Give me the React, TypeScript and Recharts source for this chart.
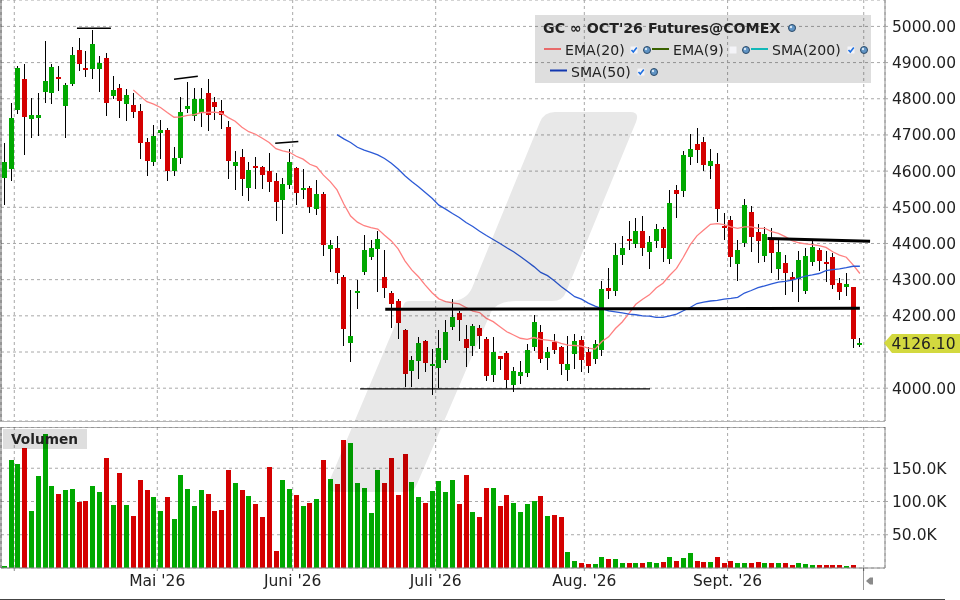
import { Bar, BarChart, ComposedChart, CartesianGrid, Line, ReferenceLine, XAxis, YAxis } from "recharts";

const opens = [
  4582, 4606, 4770, 4855, 4744, 4747, 4818, 4816, 4860, 4780, 4841, 4935, 4885, 4882, 4882, 4912, 4807, 4829, 4785, 4782,
  4766, 4680, 4625, 4705, 4713, 4600, 4636, 4771, 4752, 4760, 4816, 4791, 4766, 4722, 4614, 4639, 4553, 4614, 4611, 4600,
  4572, 4520, 4561, 4608, 4548, 4553, 4495, 4537, 4385, 4388, 4307, 4125, 4263, 4321, 4363, 4385, 4307, 4263, 4241, 4161,
  4048, 4075, 4130, 4061, 4056, 4078, 4169, 4208, 4136, 4117, 4166, 4136, 4036, 4089, 4097, 4009, 4034, 4042, 4114, 4155,
  4083, 4128, 4114, 4050, 4095, 4133, 4100, 4081, 4106, 4277, 4269, 4368, 4412, 4399, 4434, 4376, 4407, 4440, 4357, 4548,
  4545, 4639, 4675, 4680, 4614, 4620, 4448, 4465, 4343, 4401, 4487, 4432, 4365, 4412, 4329, 4346, 4307, 4302, 4269, 4349,
  4382, 4349, 4363, 4291, 4280, 4280, 4118,
];
const highs = [
  4677, 4787, 4890, 4896, 4802, 4815, 4959, 4896, 4890, 4843, 4943, 4968, 4932, 4990, 4918, 4926, 4863, 4841, 4827, 4816,
  4785, 4691, 4727, 4741, 4719, 4666, 4805, 4846, 4829, 4829, 4855, 4805, 4796, 4738, 4655, 4661, 4625, 4639, 4614, 4650,
  4595, 4581, 4661, 4611, 4606, 4559, 4575, 4542, 4410, 4421, 4313, 4271, 4299, 4424, 4410, 4435, 4382, 4269, 4247, 4164,
  4089, 4141, 4133, 4108, 4161, 4189, 4247, 4213, 4175, 4177, 4175, 4141, 4141, 4089, 4103, 4059, 4075, 4122, 4202, 4175,
  4114, 4150, 4117, 4144, 4150, 4144, 4114, 4133, 4296, 4332, 4401, 4421, 4462, 4470, 4476, 4421, 4454, 4445, 4548, 4562,
  4656, 4703, 4719, 4694, 4661, 4650, 4484, 4476, 4410, 4523, 4504, 4454, 4446, 4443, 4410, 4368, 4320, 4379, 4387, 4407,
  4387, 4379, 4374, 4305, 4318, 4280, 4139,
];
const lows = [
  4506, 4573, 4758, 4644, 4691, 4697, 4788, 4785, 4821, 4691, 4835, 4877, 4860, 4855, 4818, 4752, 4799, 4747, 4738, 4747,
  4633, 4586, 4614, 4633, 4572, 4586, 4619, 4760, 4738, 4722, 4711, 4741, 4716, 4578, 4548, 4531, 4517, 4550, 4550, 4542,
  4462, 4426, 4550, 4506, 4523, 4484, 4479, 4365, 4321, 4288, 4117, 4072, 4219, 4313, 4354, 4266, 4249, 4166, 4136, 4003,
  4003, 4025, 4045, 3981, 4001, 4070, 4161, 4130, 4059, 4089, 4108, 4020, 4017, 4050, 4001, 3990, 4012, 4031, 4103, 4070,
  4050, 4095, 4036, 4020, 4053, 4045, 4042, 4067, 4089, 4247, 4255, 4341, 4382, 4387, 4365, 4329, 4387, 4349, 4343, 4470,
  4528, 4617, 4622, 4600, 4578, 4459, 4410, 4335, 4296, 4390, 4376, 4346, 4349, 4318, 4299, 4258, 4266, 4238, 4260, 4338,
  4324, 4294, 4274, 4244, 4255, 4111, 4114,
];
const closes = [
  4625, 4747, 4885, 4750, 4755, 4755, 4849, 4888, 4854, 4838, 4921, 4896, 4879, 4951, 4899, 4788, 4824, 4793, 4810, 4763,
  4677, 4628, 4697, 4713, 4600, 4636, 4763, 4780, 4799, 4799, 4755, 4777, 4755, 4628, 4625, 4578, 4603, 4608, 4589, 4570,
  4514, 4564, 4625, 4539, 4553, 4501, 4537, 4396, 4396, 4318, 4164, 4144, 4269, 4382, 4388, 4412, 4277, 4233, 4180, 4039,
  4078, 4125, 4070, 4067, 4111, 4155, 4197, 4188, 4111, 4172, 4144, 4034, 4100, 4081, 4023, 4048, 4045, 4106, 4183, 4081,
  4100, 4106, 4067, 4067, 4130, 4078, 4061, 4122, 4274, 4269, 4368, 4388, 4407, 4434, 4388, 4404, 4440, 4387, 4512, 4537,
  4645, 4661, 4658, 4617, 4628, 4495, 4443, 4363, 4382, 4506, 4418, 4407, 4426, 4374, 4376, 4318, 4299, 4354, 4365, 4390,
  4352, 4343, 4285, 4266, 4288, 4136, 4126,
];
const volumes = [
  3.5, 162, 156, 180, 86, 138, 201, 123, 111, 117, 119, 99, 101, 123, 114, 165, 95, 143, 95, 78,
  132, 117, 107, 86, 107, 74, 140, 119, 93, 117, 111, 86, 87, 147, 128, 117, 108, 96, 77, 152,
  26, 132, 119, 110, 93, 98, 104, 162, 134, 126, 192, 188, 128, 120, 83, 147, 128, 165, 110, 171,
  129, 107, 98, 116, 131, 114, 132, 96, 140, 84, 77, 120, 120, 93, 110, 98, 84, 96, 101, 108,
  78, 80, 77, 24, 11, 8, 6.5, 6.5, 17, 14, 14, 8, 8, 8, 8, 9.5, 8, 9.5, 17, 11,
  15.5, 23, 11, 9.5, 9.5, 17, 8, 11, 8, 8, 8, 9.5, 8, 8, 8, 8, 5, 8, 6.5, 5,
  5, 5, 5, 5, 3.5, 5, 0,
];
const ema20 = [
  null, null, null, null, null, null, null, null, null, null, null, null, null, null, null, null, null, null, null, 4824,
  4808, 4792, 4785, 4776, 4762, 4749, 4750, 4754, 4756, 4762, 4762, 4763, 4760, 4748, 4738, 4721, 4709, 4702, 4691, 4679,
  4662, 4656, 4652, 4641, 4633, 4619, 4612, 4589, 4571, 4548, 4509, 4476, 4459, 4449, 4444, 4440, 4423, 4407, 4385, 4352,
  4327, 4308, 4285, 4264, 4247, 4239, 4236, 4233, 4223, 4213, 4209, 4193, 4184, 4170, 4156, 4147, 4138, 4135, 4140, 4135,
  4133, 4130, 4124, 4119, 4118, 4116, 4111, 4108, 4129, 4142, 4165, 4183, 4207, 4232, 4246, 4258, 4277, 4290, 4312, 4331,
  4362, 4396, 4421, 4437, 4453, 4455, 4452, 4446, 4442, 4446, 4446, 4442, 4442, 4433, 4428, 4419, 4408, 4402, 4399, 4397,
  4394, 4389, 4377, 4368, 4362, 4341, 4317,
];
const sma50 = [
  null, null, null, null, null, null, null, null, null, null, null, null, null, null, null, null, null, null, null, null,
  null, null, null, null, null, null, null, null, null, null, null, null, null, null, null, null, null, null, null, null,
  null, null, null, null, null, null, null, null, null, 4701,
  4689, 4679, 4666, 4658, 4652, 4645, 4635, 4622, 4606, 4587, 4571, 4557, 4541, 4525, 4506, 4495, 4483, 4472, 4458, 4447,
  4434, 4422, 4411, 4400, 4388, 4377, 4364, 4350, 4336, 4320, 4311, 4297, 4281, 4267, 4253, 4246, 4235, 4227, 4220, 4214,
  4211, 4208, 4205, 4203, 4200, 4199, 4196, 4196, 4200, 4205, 4214, 4223, 4234, 4238, 4241, 4243, 4246, 4248, 4251, 4263,
  4270, 4278, 4283, 4288, 4293, 4295, 4299, 4304, 4310, 4313, 4317, 4325, 4328, 4330, 4333, 4337, 4337,
];
const priceTicks = [4000, 4100, 4200, 4300, 4400, 4500, 4600, 4700, 4800, 4900, 5000];
const volumeTicks = [50, 100, 150];
// month boundaries on the candle index axis
const monthTicks = [1.47, 22.53, 42.47, 63.53, 85.42, 106.52, 126.57];
const monthLabels = ["", "Mai '26", "Juni '26", "Juli '26", "Aug. '26", "Sept. '26", ""];

// hand drawn trend lines: [index, price, index, price, width]
const trendLines = [
  [10.7, 4995, 15.7, 4995, 1.5],
  [25.0, 4854, 28.5, 4862, 1.5],
  [39.9, 4677, 43.3, 4682, 1.5],
  [56.1, 4218, 126, 4221, 3],
  [52.4, 3998, 95.1, 3998, 1.3],
  [112.4, 4414, 127.5, 4406, 3],
];

const candles = closes.map((close, i) => ({
  i,
  open: opens[i],
  high: highs[i],
  low: lows[i],
  close,
  volume: volumes[i],
  ema20: ema20[i],
  sma50: sma50[i],
}));

const GREEN = "#00a800";
const RED = "#d40000";
const GRID = "#a8a8a8";
const FRAME = "#b4b4b4";
const FONT = "'DejaVu Sans', sans-serif";
const X_DOMAIN = [-0.486, 129.7];

function Candle({ x, y, width, height, payload }: any) {
  const h = Math.abs(height);
  const k = h / (payload.high - payload.low || 1);
  const yOf = (v: number) => y + (payload.high - v) * k;
  const left = Math.round(x + width / 2 - 2.5);
  const top = yOf(Math.max(payload.open, payload.close));
  const bottom = yOf(Math.min(payload.open, payload.close));
  return (
    <g shapeRendering="crispEdges">
      <rect x={left + 2} y={y} width={1} height={h} fill="#000" />
      <rect x={left} y={top} width={5} height={Math.max(bottom - top, 2)} fill={payload.close >= payload.open ? GREEN : RED} />
    </g>
  );
}

function VolumeBar({ x, y, width, height, payload }: any) {
  return (
    <rect
      x={Math.round(x + width / 2 - 2.5)}
      y={y}
      width={5}
      height={Math.max(height, 0)}
      fill={payload.close >= payload.open ? GREEN : RED}
      shapeRendering="crispEdges"
    />
  );
}

function Ball({ x, y }: { x: number; y: number }) {
  return (
    <g>
      <circle cx={x} cy={y} r={3.5} fill="#5f93c4" stroke="#2c4a68" strokeWidth={1} />
      <circle cx={x - 1} cy={y - 1} r={1.2} fill="#d5e6f5" />
    </g>
  );
}

function Check({ x, y, on = true }: { x: number; y: number; on?: boolean }) {
  return (
    <g>
      <rect x={x - 3.5} y={y - 3.5} width={7} height={7} fill="#f4f4f8" />
      {on && <path d={`M${x - 2.5} ${y} L${x - 0.7} ${y + 2} L${x + 2.8} ${y - 2.5}`} stroke="#1d6fe0" strokeWidth={1.6} fill="none" />}
    </g>
  );
}

function LegendLabel({ x, y, text, bold }: { x: number; y: number; text: string; bold?: boolean }) {
  return (
    <text x={x} y={y} fontFamily={FONT} fontSize={bold ? 14.2 : 14.1} fontWeight={bold ? 700 : 400} fill="#222">
      {text}
    </text>
  );
}

// watermark, panel frames and boxes sit behind the two transparent charts
function Backdrop() {
  return (
    <svg width={960} height={600} style={{ position: "absolute", left: 0, top: 0 }}>
      <path
        d="M555 112 L630 112 Q640 112 636 122 L566 292 Q563 301 552 301 L516 301 Q498 301 491 312 L417 484 Q414 492 405 492 L336 492 Q325 492 329 482 L404 304 Q405 301 410 301 L450 301 Q466 301 472 288 L540 122 Q544 112 555 112 Z"
        fill="#e8e8e8"
      />
      <rect x={0} y={422} width={960} height={5} fill="#fff" />
      <rect x={535} y={15} width={336} height={68} fill="#dedede" />
      <rect x={3} y={429} width={84} height={20} fill="#dedede" />
      <line x1={1} y1={0} x2={1} y2={421} stroke={FRAME} strokeWidth={2} />
      <line x1={1} y1={427.5} x2={885} y2={427.5} stroke={FRAME} />
      <line x1={1} y1={427} x2={1} y2={568} stroke={FRAME} strokeWidth={2} />
      <line x1={0} y1={421.5} x2={885} y2={421.5} stroke={FRAME} />
      <line x1={863.5} y1={568} x2={863.5} y2={590} stroke="#999" />
      <path d="M866 581 L870 577.5 L873 577.5 L873 584.5 L870 584.5 Z" fill="#8a8a8a" />
      <line x1={0} y1={599.5} x2={945} y2={599.5} stroke="#444" />
    </svg>
  );
}

function Overlay() {
  return (
    <svg width={960} height={600} style={{ position: "absolute", left: 0, top: 0, pointerEvents: "none" }}>
      <LegendLabel x={543} y={33} text="GC ∞ OCT'26 Futures@COMEX" bold />
      <Ball x={792} y={28} />
      <line x1={544} y1={49} x2={561} y2={49} stroke="#e86a6a" strokeWidth={2} />
      <LegendLabel x={565} y={55} text="EMA(20)" />
      <Check x={634} y={50} />
      <Ball x={647} y={50} />
      <line x1={652} y1={49} x2={669} y2={49} stroke="#3a6200" strokeWidth={2} />
      <LegendLabel x={673} y={55} text="EMA(9)" />
      <Check x={733} y={50} on={false} />
      <Ball x={746} y={50} />
      <line x1={751} y1={49} x2={768} y2={49} stroke="#12b8b8" strokeWidth={2} />
      <LegendLabel x={772} y={55} text="SMA(200)" />
      <Check x={851} y={50} />
      <Ball x={864} y={50} />
      <line x1={550} y1={70.5} x2={567} y2={70.5} stroke="#1238b0" strokeWidth={2} />
      <LegendLabel x={571} y={77} text="SMA(50)" />
      <Check x={641} y={72} />
      <Ball x={654} y={72} />
      <text x={11} y={444} fontFamily={FONT} fontSize={13.7} fontWeight={700} fill="#222">
        Volumen
      </text>
      <polygon points="884,343 892,334 960,334 960,353 892,353" fill="#d3d93f" />
      <text x={891.5} y={349} fontFamily={FONT} fontSize={15.5} fill="#222">
        4126.10
      </text>
    </svg>
  );
}

export default function App() {
  const tickStyle = { fontSize: 15.5, fontFamily: FONT, fill: "#222" };
  return (
    <div style={{ position: "absolute", left: 0, top: 0, width: 960, height: 600, overflow: "hidden", background: "#fff" }}>
      <Backdrop />
      <div style={{ position: "absolute", left: 0, top: 0, mixBlendMode: "multiply" }}>
        <ComposedChart width={960} height={421} data={candles} margin={{ top: 0, right: 0, bottom: 0, left: 1 }}>
          <CartesianGrid stroke={GRID} strokeDasharray="3 3" />
          <XAxis dataKey="i" type="number" domain={X_DOMAIN} ticks={monthTicks} hide allowDataOverflow />
          <YAxis
            orientation="right"
            width={75}
            domain={[3909.3, 5073]}
            ticks={priceTicks}
            interval={0}
            allowDataOverflow
            tickFormatter={(v: number) => (v === 4100 ? "" : v.toFixed(2))}
            tick={tickStyle}
            tickSize={3}
            tickMargin={4}
            axisLine={{ stroke: "#8c8c8c" }}
            tickLine={{ stroke: GRID }}
          />
          <Bar dataKey={(d: any) => [d.low, d.high]} barSize={5} shape={<Candle />} isAnimationActive={false} />
          <Line dataKey="ema20" stroke="#ff8080" strokeWidth={1.3} dot={false} connectNulls={false} isAnimationActive={false} />
          <Line dataKey="sma50" stroke="#2c5ad6" strokeWidth={1.3} dot={false} connectNulls={false} isAnimationActive={false} />
          {trendLines.map(([x1, y1, x2, y2, w], n) => (
            <ReferenceLine
              key={n}
              segment={[
                { x: x1, y: y1 },
                { x: x2, y: y2 },
              ]}
              stroke="#000"
              strokeWidth={w}
              ifOverflow="visible"
            />
          ))}
        </ComposedChart>
      </div>
      <div style={{ position: "absolute", left: 0, top: 427, mixBlendMode: "multiply" }}>
        <BarChart width={960} height={173} data={candles} margin={{ top: 0, right: 0, bottom: 0, left: 1 }}>
          <CartesianGrid stroke={GRID} strokeDasharray="3 3" />
          <XAxis
            dataKey="i"
            type="number"
            domain={X_DOMAIN}
            ticks={monthTicks}
            interval={0}
            allowDataOverflow
            height={32}
            tickFormatter={(v: number) => monthLabels[monthTicks.indexOf(v)]}
            tick={tickStyle}
            tickSize={3}
            tickMargin={4}
            axisLine={{ stroke: "#8c8c8c" }}
            tickLine={{ stroke: "#8c8c8c" }}
          />
          <YAxis
            orientation="right"
            width={75}
            domain={[0, 212]}
            ticks={volumeTicks}
            interval={0}
            allowDataOverflow
            tickFormatter={(v: number) => `${v}.0K`}
            tick={tickStyle}
            tickSize={3}
            tickMargin={4}
            axisLine={{ stroke: "#8c8c8c" }}
            tickLine={{ stroke: GRID }}
          />
          <Bar dataKey="volume" barSize={5} shape={<VolumeBar />} isAnimationActive={false} />
        </BarChart>
      </div>
      <Overlay />
    </div>
  );
}
